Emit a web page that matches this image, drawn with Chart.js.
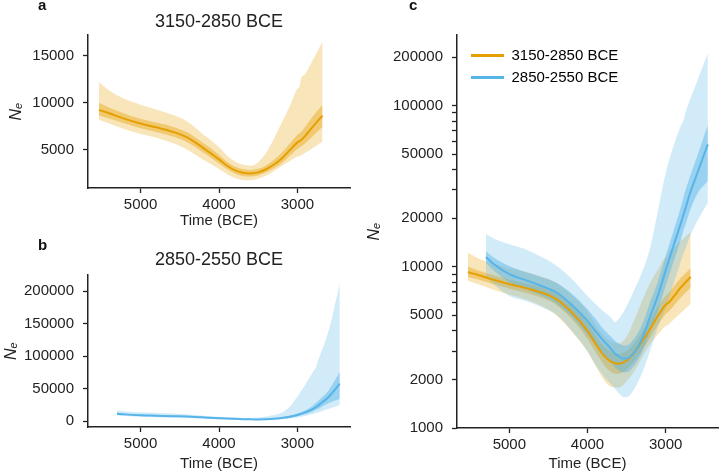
<!DOCTYPE html>
<html>
<head>
<meta charset="utf-8">
<script src="https://cdn.jsdelivr.net/npm/chart.js@4.4.0/dist/chart.umd.min.js"></script>
<style>
  body { margin: 0; background: #fff; width: 720px; height: 473px; position: relative; overflow: hidden;
         font-family: "Liberation Sans", Arial, Helvetica, sans-serif; }
  canvas { position: absolute; }
  .tag { position: absolute; font-weight: bold; font-size: 15px; line-height: 15px; color: #111; }
</style>
</head>
<body>
<canvas id="panelA" width="360" height="230" style="left:0;top:0"></canvas>
<canvas id="panelB" width="360" height="243" style="left:0;top:230px"></canvas>
<canvas id="panelC" width="360" height="473" style="left:360px;top:0"></canvas>
<div class="tag" style="left:38px;top:-3px">a</div>
<div class="tag" style="left:38px;top:237px">b</div>
<div class="tag" style="left:409px;top:-3px">c</div>
<script>
// --- data ---
const seriesNames = ['3150-2850 BCE', '2850-2550 BCE'];
const xTicks = [5000, 4000, 3000];
const ticksA = [5000, 10000, 15000];
const ticksB = [0, 50000, 100000, 150000, 200000];
const ticksC = [1000, 2000, 3000, 4000, 5000, 6000, 7000, 8000, 9000,
                10000, 20000, 30000, 40000, 50000, 60000, 70000, 80000, 90000, 100000, 200000];
const labelsC = [1000, 2000, 5000, 10000, 20000, 50000, 100000, 200000];

// 3150-2850 BCE (orange)
const yearsO = [5530, 5400, 5200, 5000, 4800, 4600, 4400, 4200, 4000, 3900, 3800, 3700, 3600, 3500, 3400, 3300, 3200, 3100, 3000, 2970, 2960, 2900, 2800, 2680];
const medO   = [9250, 8900, 8300, 7800, 7400, 6950, 6300, 5200, 4000, 3350, 2850, 2580, 2500, 2620, 2950, 3450, 4100, 4950, 5800, 5950, 6000, 6500, 7500, 8650];
const lo50O  = [8650, 8350, 7800, 7300, 6900, 6450, 5800, 4720, 3550, 2970, 2500, 2220, 2170, 2300, 2600, 3050, 3600, 4350, 5100, 5250, 5300, 5700, 6500, 7450];
const hi50O  = [10000, 9500, 8850, 8300, 7900, 7500, 6850, 5730, 4500, 3780, 3250, 2990, 2880, 3000, 3350, 3950, 4700, 5650, 6600, 6800, 6850, 7500, 8600, 9800];
const lo95O  = [8200, 7800, 7200, 6700, 6300, 5750, 5000, 3950, 2980, 2450, 2020, 1800, 1780, 1950, 2250, 2750, 3300, 3800, 4300, 4350, 4400, 4700, 5200, 5900];
const hi95O  = [12200, 11300, 10400, 9800, 9300, 8750, 8000, 6650, 5300, 4400, 3780, 3450, 3330, 3700, 4700, 6200, 7900, 9600, 11500, 11800, 12400, 13100, 14600, 16500];

// 2850-2550 BCE (blue)
const yearsB = [5300, 5200, 5000, 4800, 4600, 4400, 4200, 4000, 3900, 3800, 3700, 3650, 3600, 3550, 3500, 3400, 3300, 3200, 3100, 3000, 2900, 2800, 2760, 2750, 2700, 2600, 2460];
const medB   = [11500, 10400, 9000, 8300, 7650, 6950, 5800, 4620, 4000, 3500, 3100, 2900, 2780, 2700, 2700, 2950, 3600, 4900, 6600, 9500, 13500, 19000, 22000, 22700, 27500, 37500, 57500];
const lo50B  = [10600, 9500, 8000, 7300, 6650, 5950, 4900, 3780, 3300, 2860, 2570, 2390, 2270, 2220, 2220, 2450, 2950, 3950, 5300, 7600, 10700, 15000, 17500, 18000, 21500, 28000, 34000];
const hi50B  = [12500, 11400, 10100, 9300, 8650, 7950, 6800, 5460, 4780, 4130, 3690, 3480, 3350, 3260, 3250, 3600, 4400, 6000, 8100, 11700, 16700, 24000, 28500, 29500, 35000, 48000, 76000];
const lo95B  = [8700, 7800, 6600, 6150, 5650, 5050, 4000, 2990, 2470, 2120, 1870, 1750, 1650, 1560, 1550, 1750, 2200, 3000, 4200, 5600, 7800, 11000, 12500, 12800, 15000, 19000, 25000];
const hi95B  = [16000, 15000, 13800, 12900, 11600, 10200, 8400, 6600, 5900, 5300, 4850, 4550, 4750, 5150, 5700, 7200, 9300, 13000, 22000, 38000, 56000, 76000, 84000, 89000, 105000, 140000, 212000];

// --- style ---
const ink = '#222';
const orange = '#E69F00';
const blue = '#56B4E9';
Chart.defaults.font.family = '"Liberation Sans", Arial, Helvetica, sans-serif';
Chart.defaults.color = ink;
Chart.defaults.animation = false;

function rgba(hex, a) {
  const n = parseInt(hex.slice(1), 16);
  return `rgba(${n >> 16}, ${(n >> 8) & 255}, ${n & 255}, ${a})`;
}

function pts(years, vals) {
  return years.map((x, i) => ({ x: x, y: vals[i] }));
}

// band = upper edge filled down to the next dataset (lower edge)
function band(years, lo, hi, color, order) {
  const base = { borderColor: 'transparent', borderWidth: 0, pointRadius: 0,
                 cubicInterpolationMode: 'monotone', order: order };
  return [
    Object.assign({ data: pts(years, hi), fill: '+1', backgroundColor: color }, base),
    Object.assign({ data: pts(years, lo), fill: false }, base)
  ];
}

function medianLine(years, med, color, order) {
  return { data: pts(years, med), borderColor: color, borderWidth: 2, pointRadius: 0,
           fill: false, cubicInterpolationMode: 'monotone', order: order };
}

function xAxis(height) {
  return {
    type: 'linear', reverse: true, min: 2330, max: 5670,
    afterBuildTicks: s => { s.ticks = xTicks.map(v => ({ value: v })); },
    afterFit: s => { s.height = height; },
    grid: { drawOnChartArea: false, tickLength: 5, color: ink, tickWidth: 1.3 },
    border: { color: ink, width: 1.5 },
    ticks: { color: ink, font: { size: 15 }, padding: 3, maxRotation: 0, autoSkip: false,
             callback: v => String(v) },
    title: { display: true, text: 'Time (BCE)', color: ink, font: { size: 15 }, padding: { top: 0, bottom: 0 } }
  };
}

function yAxis(type, min, max, tickVals, width, titlePad, labelled) {
  return {
    type: type, min: min, max: max,
    afterBuildTicks: s => { s.ticks = tickVals.map(v => ({ value: v })); },
    afterFit: s => { s.width = width; },
    grid: { drawOnChartArea: false, tickLength: 5, color: ink, tickWidth: 1.3 },
    border: { color: ink, width: 1.5 },
    ticks: { color: ink, font: { size: 15 }, padding: 9, autoSkip: false,
             callback: v => (!labelled || labelled.includes(v)) ? String(v) : '' },
    title: { display: true, text: 'Nₑ', color: ink, font: { size: 16, style: 'italic' },
             padding: { top: titlePad, bottom: 0 } }
  };
}

function panelTitle(text, padTop, padBottom) {
  return { display: true, text: text, color: ink, fullSize: false,
           font: { size: 18, weight: 'normal' }, padding: { top: padTop, bottom: padBottom } };
}

// panel a
new Chart(document.getElementById('panelA'), {
  type: 'line',
  data: { datasets: [
    ...band(yearsO, lo95O, hi95O, rgba(orange, 0.27), 3),
    ...band(yearsO, lo50O, hi50O, rgba(orange, 0.4), 2),
    medianLine(yearsO, medO, orange, 1)
  ] },
  options: {
    responsive: false,
    layout: { padding: { top: 0, right: 10, bottom: 0, left: 0 } },
    plugins: { legend: { display: false }, tooltip: { enabled: false },
               title: panelTitle(seriesNames[0], 11, 2.4) },
    scales: { x: xAxis(42), y: yAxis('linear', 960, 17200, ticksA, 88, 7.4) }
  }
});

// panel b
new Chart(document.getElementById('panelB'), {
  type: 'line',
  data: { datasets: [
    ...band(yearsB, lo95B, hi95B, rgba(blue, 0.27), 3),
    ...band(yearsB, lo50B, hi50B, rgba(blue, 0.45), 2),
    medianLine(yearsB, medB, blue, 1)
  ] },
  options: {
    responsive: false,
    layout: { padding: { top: 0, right: 10, bottom: 0, left: 0 } },
    plugins: { legend: { display: false }, tooltip: { enabled: false },
               title: panelTitle(seriesNames[1], 19, 4.4) },
    scales: { x: xAxis(46), y: yAxis('linear', -9000, 224600, ticksB, 88, 2.4) }
  }
});

// panel c: legend sits inside the plot, a little away from the corner
const legendNudge = {
  id: 'legendNudge',
  afterLayout(chart) {
    chart.legend.left = chart.chartArea.left + 7;
    chart.legend.top = chart.chartArea.top + 6;
  }
};

new Chart(document.getElementById('panelC'), {
  type: 'line',
  data: { datasets: [
    ...band(yearsO, lo95O, hi95O, rgba(orange, 0.27), 12),
    ...band(yearsO, lo50O, hi50O, rgba(orange, 0.4), 11),
    ...band(yearsB, lo95B, hi95B, rgba(blue, 0.27), 10),
    ...band(yearsB, lo50B, hi50B, rgba(blue, 0.45), 9),
    medianLine(yearsO, medO, orange, 2),
    medianLine(yearsB, medB, blue, 1)
  ] },
  options: {
    responsive: false,
    layout: { padding: { top: 35, right: 2, bottom: 0, left: 0 } },
    plugins: {
      tooltip: { enabled: false },
      legend: {
        position: 'chartArea', align: 'start',
        labels: {
          boxWidth: 33, boxHeight: 3, padding: 7, color: ink, font: { size: 15 },
          generateLabels: () => [
            { text: seriesNames[0], fillStyle: orange, strokeStyle: orange, lineWidth: 0, hidden: false, datasetIndex: 8 },
            { text: seriesNames[1], fillStyle: blue, strokeStyle: blue, lineWidth: 0, hidden: false, datasetIndex: 9 }
          ]
        }
      }
    },
    scales: { x: xAxis(45), y: yAxis('logarithmic', 1000, 274000, ticksC, 97, 5.4, labelsC) }
  },
  plugins: [legendNudge]
});
</script>
</body>
</html>
